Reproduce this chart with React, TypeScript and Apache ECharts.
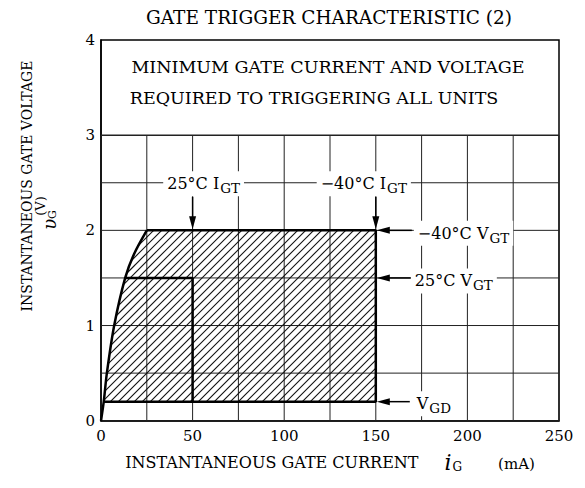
import React, { useEffect, useRef } from 'react';
import * as echarts from 'echarts';

const FONT = '"DejaVu Serif", "Liberation Serif", serif';

// axis ranges and grid ticks
const X_MAX = 250;
const Y_MAX = 4;
const xGridTicks = [0, 25, 50, 75, 100, 125, 150, 175, 200, 225, 250];
const yGridTicks = [0, 0.5, 1, 1.5, 2, 2.5, 3];
const GRID_TOP_V = 3; // grid stops here; box with notes above

// left boundary curve of the trigger region (mA, V)
const gateCurve: number[][] = [
  [0, 0], [1.5, 0.2], [3.2, 0.5], [7.2, 1.0], [13.2, 1.5], [18, 1.75], [25, 2.0],
];
// trigger limits
const IGT_25 = 50;
const IGT_M40 = 150;
const VGT_25 = 1.5;
const VGT_M40 = 2.0;
const VGD = 0.2;
const IGT_LABEL_ROW = 2.5;

const titleText = 'GATE TRIGGER CHARACTERISTIC (2)';
const noteLines = ['MINIMUM GATE CURRENT AND VOLTAGE', 'REQUIRED TO TRIGGERING ALL UNITS'];

const curveAtVGD = gateCurve.find((p) => p[1] === VGD)!;
const curveAtVGT25 = gateCurve.find((p) => p[1] === VGT_25)!;
const curveTop = gateCurve[gateCurve.length - 1];

const hatchRegion = [
  ...gateCurve.filter((p) => p[1] >= VGD),
  [IGT_M40, VGT_M40],
  [IGT_M40, VGD],
];
const outlinePts = [curveTop, [IGT_M40, VGT_M40], [IGT_M40, VGD], curveAtVGD];
const box25Pts = [curveAtVGT25, [IGT_25, VGT_25], [IGT_25, VGD]];

function hatchSegments(poly: number[][], step: number) {
  const sums = poly.map((p) => p[0] + p[1]);
  const cMin = Math.min(...sums);
  const cMax = Math.max(...sums);
  const segs: number[][][] = [];
  for (let c = Math.ceil(cMin / step) * step; c <= cMax; c += step) {
    const pts: number[][] = [];
    for (let i = 0; i < poly.length; i++) {
      const a = poly[i];
      const b = poly[(i + 1) % poly.length];
      const fa = a[0] + a[1] - c;
      const fb = b[0] + b[1] - c;
      if ((fa < 0 && fb >= 0) || (fa >= 0 && fb < 0)) {
        const t = fa / (fa - fb);
        pts.push([a[0] + t * (b[0] - a[0]), a[1] + t * (b[1] - a[1])]);
      }
    }
    pts.sort((p, q) => p[0] - q[0]);
    for (let k = 0; k + 1 < pts.length; k += 2) segs.push([pts[k], pts[k + 1]]);
  }
  return segs;
}

const richLabel = {
  m: { fontSize: 16, fontFamily: FONT },
  s: { fontSize: 13.5, fontFamily: FONT, padding: [9, 0, 0, 1] },
};

function label(text: string, x: number, y: number, align: string) {
  return {
    type: 'text',
    x,
    y,
    z2: 20,
    style: {
      text,
      align,
      verticalAlign: 'middle',
      fill: '#000',
      fontFamily: FONT,
      fontSize: 16,
      backgroundColor: '#fff',
      padding: [1, 4, 1, 4],
      rich: richLabel,
    },
  };
}

function arrowDown(x: number, y0: number, tipY: number) {
  return [
    { type: 'line', z2: 15, shape: { x1: x, y1: y0, x2: x, y2: tipY - 8 }, style: { stroke: '#000', lineWidth: 1.5 } },
    { type: 'polygon', z2: 15, shape: { points: [[x, tipY], [x - 3.5, tipY - 13], [x + 3.5, tipY - 13]] }, style: { fill: '#000' } },
  ];
}
function arrowLeft(x0: number, tipX: number, y: number) {
  return [
    { type: 'line', z2: 15, shape: { x1: x0, y1: y, x2: tipX + 8, y2: y }, style: { stroke: '#000', lineWidth: 1.5 } },
    { type: 'polygon', z2: 15, shape: { points: [[tipX, y], [tipX + 13, y - 3.5], [tipX + 13, y + 3.5]] }, style: { fill: '#000' } },
  ];
}

const option: any = {
  animation: false,
  backgroundColor: '#fff',
  grid: {
    left: 101,
    top: 40,
    width: 458,
    height: 380.7,
    show: true,
    borderColor: '#000',
    borderWidth: 1.5,
    backgroundColor: 'transparent',
  },
  xAxis: {
    type: 'value',
    min: 0,
    max: X_MAX,
    interval: 50,
    axisLine: { show: true, lineStyle: { color: '#000', width: 1.5 } },
    axisTick: { show: false },
    splitLine: { show: false },
    axisLabel: { color: '#000', fontFamily: FONT, fontSize: 15, margin: 8 },
    name: '{a|INSTANTANEOUS GATE CURRENT}{i|i}{s|G}{u|(mA)}',
    nameLocation: 'middle',
    nameGap: 31,
    nameTextStyle: {
      color: '#000',
      fontFamily: FONT,
      fontSize: 16,
      rich: {
        a: { fontSize: 16, fontFamily: FONT },
        i: { fontSize: 22, fontFamily: FONT, fontStyle: 'italic', padding: [0, 0, 0, 26] },
        s: { fontSize: 12, fontFamily: FONT, padding: [9, 0, 0, 1] },
        u: { fontSize: 15, fontFamily: FONT, padding: [2, 0, 0, 36] },
      },
    },
  },
  yAxis: {
    type: 'value',
    min: 0,
    max: Y_MAX,
    interval: 1,
    axisLine: { show: true, lineStyle: { color: '#000', width: 1.5 } },
    axisTick: { show: false },
    splitLine: { show: false },
    axisLabel: { color: '#000', fontFamily: FONT, fontSize: 15, margin: 6 },
  },
  graphic: [
    {
      type: 'text', x: 329, y: 17,
      style: { text: titleText, fontFamily: FONT, fontSize: 18.5, fill: '#000', align: 'center', verticalAlign: 'middle' },
    },
    {
      type: 'text', x: 328, y: 67,
      style: { text: noteLines[0], fontFamily: FONT, fontSize: 17.5, fill: '#000', align: 'center', verticalAlign: 'middle' },
    },
    {
      type: 'text', x: 314, y: 98,
      style: { text: noteLines[1], fontFamily: FONT, fontSize: 17.5, fill: '#000', align: 'center', verticalAlign: 'middle' },
    },
    {
      type: 'text', x: 27, y: 186, rotation: Math.PI / 2,
      style: { text: 'INSTANTANEOUS GATE VOLTAGE', fontFamily: FONT, fontSize: 14, fill: '#000', align: 'center', verticalAlign: 'middle' },
    },
    {
      type: 'text', x: 40, y: 206, rotation: Math.PI / 2,
      style: { text: '(V)', fontFamily: FONT, fontSize: 13, fill: '#000', align: 'center', verticalAlign: 'middle' },
    },
    {
      type: 'text', x: 49, y: 220, rotation: Math.PI / 2,
      style: {
        text: '{v|υ}{g|G}', fontFamily: FONT, fill: '#000', align: 'center', verticalAlign: 'middle',
        rich: { v: { fontSize: 18, fontFamily: FONT, fontStyle: 'italic' }, g: { fontSize: 11, fontFamily: FONT, padding: [7, 0, 0, 0] } },
      },
    },
  ],
  series: [
    {
      type: 'custom',
      name: 'grid',
      z: 1,
      silent: true,
      data: [[0, 0]],
      renderItem: (_p: any, api: any) => {
        const children: any[] = [];
        xGridTicks.forEach((v) => {
          const a = api.coord([v, 0]);
          const b = api.coord([v, GRID_TOP_V]);
          children.push({ type: 'line', shape: { x1: a[0], y1: a[1], x2: b[0], y2: b[1] }, style: { stroke: '#222', lineWidth: 1 } });
        });
        yGridTicks.forEach((v) => {
          const a = api.coord([0, v]);
          const b = api.coord([X_MAX, v]);
          children.push({ type: 'line', shape: { x1: a[0], y1: a[1], x2: b[0], y2: b[1] }, style: { stroke: '#222', lineWidth: v === GRID_TOP_V ? 1.5 : 1 } });
        });
        return { type: 'group', children };
      },
    },
    {
      type: 'custom',
      name: 'hatch',
      z: 2,
      silent: true,
      data: [[0, 0]],
      renderItem: (_p: any, api: any) => {
        const poly = hatchRegion.map((p) => api.coord(p));
        const segs = hatchSegments(poly, 8);
        return {
          type: 'group',
          children: segs.map((s) => ({
            type: 'line',
            shape: { x1: s[0][0], y1: s[0][1], x2: s[1][0], y2: s[1][1] },
            style: { stroke: '#111', lineWidth: 1.1 },
          })),
        };
      },
    },
    {
      type: 'line',
      name: 'curve',
      z: 3,
      data: gateCurve,
      smooth: 0.3,
      symbol: 'none',
      lineStyle: { color: '#000', width: 2.5 },
    },
    {
      type: 'line',
      name: 'outline',
      z: 3,
      data: outlinePts,
      symbol: 'none',
      lineStyle: { color: '#000', width: 2.5 },
    },
    {
      type: 'line',
      name: 'box25',
      z: 3,
      data: box25Pts,
      symbol: 'none',
      lineStyle: { color: '#000', width: 2.5 },
    },
    {
      type: 'custom',
      name: 'annotations',
      z: 5,
      silent: true,
      data: [[0, 0]],
      renderItem: (_p: any, api: any) => {
        const children: any[] = [];
        const row = api.coord([0, IGT_LABEL_ROW])[1];
        const a25 = api.coord([IGT_25, VGT_M40]);
        const a40 = api.coord([IGT_M40, VGT_M40]);
        children.push(label('{m|25°C I}{s|GT}', a25[0] + 11, row + 1, 'center'));
        children.push(label('{m|−40°C I}{s|GT}', a40[0] - 12, row + 1, 'center'));
        children.push(...arrowDown(a25[0], row + 14, a25[1] - 1));
        children.push(...arrowDown(a40[0], row + 14, a40[1] - 1));

        const rightX = a40[0];
        const yV40 = api.coord([IGT_M40, VGT_M40])[1];
        const yV25 = api.coord([IGT_M40, VGT_25])[1];
        const yVGD = api.coord([IGT_M40, VGD])[1];
        children.push(label('{m|−40°C V}{s|GT}', rightX + 38, yV40 + 3, 'left'));
        children.push(label('{m|25°C V}{s|GT}', rightX + 35, yV25 + 3, 'left'));
        children.push(label('{m|V}{s|GD}', rightX + 37, yVGD + 2, 'left'));
        children.push(...arrowLeft(rightX + 36, rightX + 1, yV40));
        children.push(...arrowLeft(rightX + 36, rightX + 1, yV25));
        children.push(...arrowLeft(rightX + 34, rightX + 1, yVGD));
        return { type: 'group', children };
      },
    },
  ],
};

export default function App() {
  const ref = useRef<HTMLDivElement>(null);
  useEffect(() => {
    if (!ref.current) return;
    const chart = echarts.init(ref.current, null, { renderer: 'svg' });
    chart.setOption(option);
    return () => chart.dispose();
  }, []);
  return (
    <div
      ref={ref}
      style={{ position: 'absolute', left: 0, top: 0, width: 585, height: 488, background: '#fff' }}
    />
  );
}
